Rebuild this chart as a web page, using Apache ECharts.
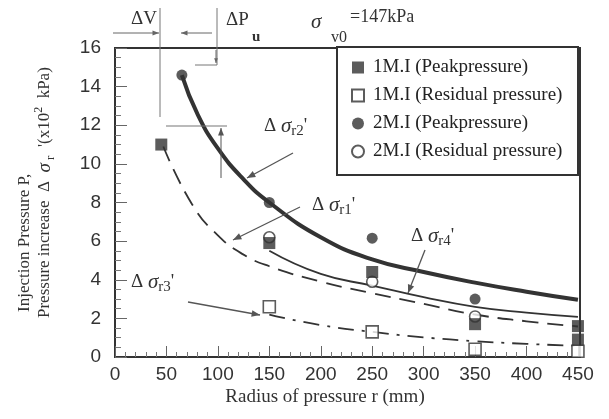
<!DOCTYPE html>
<html><head><meta charset="utf-8">
<script src="https://cdn.jsdelivr.net/npm/echarts/dist/echarts.min.js"></script>
<style>html,body{margin:0;padding:0;background:#fff}#c{width:609px;height:419px}</style>
</head><body><div id="c"></div>
<script>
// ---- data ----
const xTicks = [0,50,100,150,200,250,300,350,400,450];
const yTicks = [0,2,4,6,8,10,12,14,16];

const peak1M_r = [45,150,250,350,450,450];
const peak1M_v = [11.0,5.9,4.4,1.7,1.6,0.9];
const res1M_r  = [150,250,350,450];
const res1M_v  = [2.6,1.3,0.4,0.3];
const peak2M_r = [65,150,250,350];
const peak2M_v = [14.6,8.0,6.15,3.0];
const res2M_r  = [150,250,350];
const res2M_v  = [6.2,3.9,2.1];

const curveR2_r = [65,80,100,125,150,200,250,300,350,400,450];
const curveR2_v = [14.6,12.6,10.8,9.2,8.0,6.2,5.05,4.4,3.85,3.38,2.96];
const curveR1_r = [150,200,250,300,350,400,450];
const curveR1_v = [5.5,4.3,3.7,3.1,2.6,2.3,2.08];
const curveR4_r = [47,75,100,125,150,200,250,300,350,400,450];
const curveR4_v = [10.9,7.9,6.3,5.3,4.7,3.9,3.3,2.75,2.2,1.85,1.58];
const curveR3_r = [150,200,250,300,350,400,450];
const curveR3_v = [2.2,1.65,1.3,1.02,0.82,0.68,0.58];

const legendNames = ['1M.I (Peakpressure)','1M.I (Residual pressure)','2M.I (Peakpressure)','2M.I (Residual pressure)'];

// ---- helpers ----
const zip = (a,b) => a.map((v,i)=>[v,b[i]]);
const INK = '#333';
const SERIF = '"Liberation Serif", "Times New Roman", serif';
const SANS = '"Liberation Sans Narrow", "Liberation Sans", Arial, sans-serif';

function arrow(x1,y1,x2,y2,head,color,w){
  head = head||7; color = color||'#444'; w = w||1.2;
  const a = Math.atan2(y2-y1,x2-x1), s=0.38;
  const p1=[x2-head*Math.cos(a-s), y2-head*Math.sin(a-s)];
  const p2=[x2-head*Math.cos(a+s), y2-head*Math.sin(a+s)];
  return [
    {type:'line', z:5, shape:{x1:x1,y1:y1,x2:x2,y2:y2}, style:{stroke:color,lineWidth:w}},
    {type:'polygon', z:5, shape:{points:[[x2,y2],p1,p2]}, style:{fill:color}}
  ];
}
function seg(x1,y1,x2,y2,color,w){
  return {type:'line', z:5, shape:{x1:x1,y1:y1,x2:x2,y2:y2}, style:{stroke:color||'#666',lineWidth:w||1}};
}
const richBase = {
  it:{fontFamily:SERIF,fontSize:21,fontStyle:'italic',fill:INK,lineHeight:26},
  n:{fontFamily:SERIF,fontSize:19,fill:INK,lineHeight:26},
  sub:{fontFamily:SERIF,fontSize:15,fill:INK,lineHeight:12,verticalAlign:'bottom'},
  sup:{fontFamily:SERIF,fontSize:13,fill:INK,lineHeight:12,verticalAlign:'top'}
};
const richY = {
  it:{fontFamily:SERIF,fontSize:19,fontStyle:'italic',fill:INK,lineHeight:24},
  n:{fontFamily:SERIF,fontSize:17,fill:INK,lineHeight:24},
  sub:{fontFamily:SERIF,fontSize:13,fill:INK,lineHeight:12,verticalAlign:'bottom'},
  sup:{fontFamily:SERIF,fontSize:12,fill:INK,lineHeight:12,verticalAlign:'top'}
};
function label(x,y,txt,extra){
  return {type:'text', z:6, x:x, y:y, style:Object.assign({text:txt, font:'19px '+SERIF, fill:INK, align:'left', verticalAlign:'middle', lineHeight:26, rich:richBase}, extra||{})};
}

const graphics = [
  // legend box
  {type:'rect', z:3, shape:{x:337,y:47,width:241,height:128}, style:{fill:'#fff',stroke:'#333',lineWidth:2}},
  // y-axis titles
  {type:'text', z:6, x:25, y:312, rotation:Math.PI/2, style:{text:'Injection Pressure P,', font:'17px '+SERIF, fill:INK, align:'left', verticalAlign:'middle'}},
  {type:'text', z:6, x:45, y:318, rotation:Math.PI/2, style:{text:'Pressure increase  {n|Δ  }{it|σ}{sub| r}{n|  \'(x10}{sup|2}{n|  kPa)}', font:'17px '+SERIF, fill:INK, align:'left', verticalAlign:'middle', lineHeight:24, rich:richY}},
  // x-axis title
  {type:'text', z:6, x:325, y:397, style:{text:'Radius of pressure r (mm)', font:'19px '+SERIF, fill:INK, align:'center', verticalAlign:'middle'}},
  // top annotations
  label(131,19,'ΔV'),
  label(226,20,'ΔP'),
  label(252,37,'u',{font:'bold 15px '+SERIF}),
  label(311,22,'σ',{font:'italic 21px '+SERIF}),
  label(331,38,'v0',{font:'16px '+SERIF}),
  label(350,17,'=147kPa',{font:'18px '+SERIF}),
  seg(160,8,160,117,'#777',1),
  seg(217,8,217,65,'#777',1),
  seg(195,65,217,65,'#777',1),
  seg(166,126,227,126,'#777',1.2),
  // curve labels
  label(264,126,'{n|Δ }{it|σ}{sub|r2}{n|\'}'),
  label(312,205,'{n|Δ }{it|σ}{sub|r1}{n|\'}'),
  label(411,236,'{n|Δ }{it|σ}{sub|r4}{n|\'}'),
  label(131,282,'{n|Δ }{it|σ}{sub|r3}{n|\'}')
].concat(
  arrow(113,33,159,33,7,'#666',1),
  arrow(212,33,181,33,7,'#666',1),
  arrow(216,50,216,63,5,'#666',1),
  arrow(221,178,221,128,8,'#555',1),
  arrow(293,153,247,178,9,'#555',1.3),
  arrow(300,207,233,240,9,'#555',1.3),
  arrow(425,250,408,293,9,'#555',1.3),
  arrow(188,302,260,315,9,'#555',1.3)
);

function curve(r,v,w,type){
  return {type:'line', data:zip(r,v), smooth:0.5, showSymbol:false, silent:true, z:2,
    lineStyle:{color:INK, width:w, type:type}};
}

const chart = echarts.init(document.getElementById('c'), null, {renderer:'canvas'});
chart.setOption({
  animation:false,
  backgroundColor:'#fff',
  grid:{left:115,right:29,top:48,bottom:62,show:true,borderColor:'#333',borderWidth:2,backgroundColor:'transparent'},
  xAxis:{type:'value',min:0,max:452,interval:50,
    axisLine:{lineStyle:{color:'#333',width:2}},
    axisTick:{inside:true,length:11,lineStyle:{color:'#666'}},
    minorTick:{show:true,splitNumber:5,length:5,lineStyle:{color:'#777'}},
    splitLine:{show:false},
    axisLabel:{formatter:v=>xTicks.indexOf(v)>=0?String(v):'',fontFamily:SANS,fontSize:19,color:'#333',margin:8}},
  yAxis:{type:'value',min:0,max:16,interval:2,
    axisLine:{lineStyle:{color:'#333',width:2}},
    axisTick:{inside:true,length:12,lineStyle:{color:'#666'}},
    minorTick:{show:true,splitNumber:4,length:6,lineStyle:{color:'#777'}},
    splitLine:{show:false},
    axisLabel:{formatter:v=>yTicks.indexOf(v)>=0?String(v):'',fontFamily:SANS,fontSize:19,color:'#333',margin:14}},
  legend:{data:legendNames,orient:'vertical',left:351,top:58,padding:0,itemWidth:12,itemHeight:12,itemGap:9,
    textStyle:{fontFamily:SERIF,fontSize:19,color:'#222',lineHeight:17,padding:[0,0,0,4]}},
  graphic:graphics,
  series:[
    curve(curveR2_r,curveR2_v,4,'solid'),
    curve(curveR1_r,curveR1_v,1.8,'solid'),
    curve(curveR4_r,curveR4_v,1.8,[16,9]),
    curve(curveR3_r,curveR3_v,1.8,[16,8,3,8]),
    {type:'scatter',name:legendNames[3],data:zip(res2M_r,res2M_v),symbol:'circle',symbolSize:11,z:3,
      itemStyle:{color:'#fff',borderColor:'#333',borderWidth:1.6}},
    {type:'scatter',name:legendNames[1],data:zip(res1M_r,res1M_v),symbol:'rect',symbolSize:12,z:3,
      itemStyle:{color:'#fff',borderColor:'#333',borderWidth:1.6}},
    {type:'scatter',name:legendNames[0],data:zip(peak1M_r,peak1M_v),symbol:'rect',symbolSize:12,z:3,
      itemStyle:{color:'#333'}},
    {type:'scatter',name:legendNames[2],data:zip(peak2M_r,peak2M_v),symbol:'circle',symbolSize:11,z:3,
      itemStyle:{color:'#333'}}
  ]
});
</script></body></html>
